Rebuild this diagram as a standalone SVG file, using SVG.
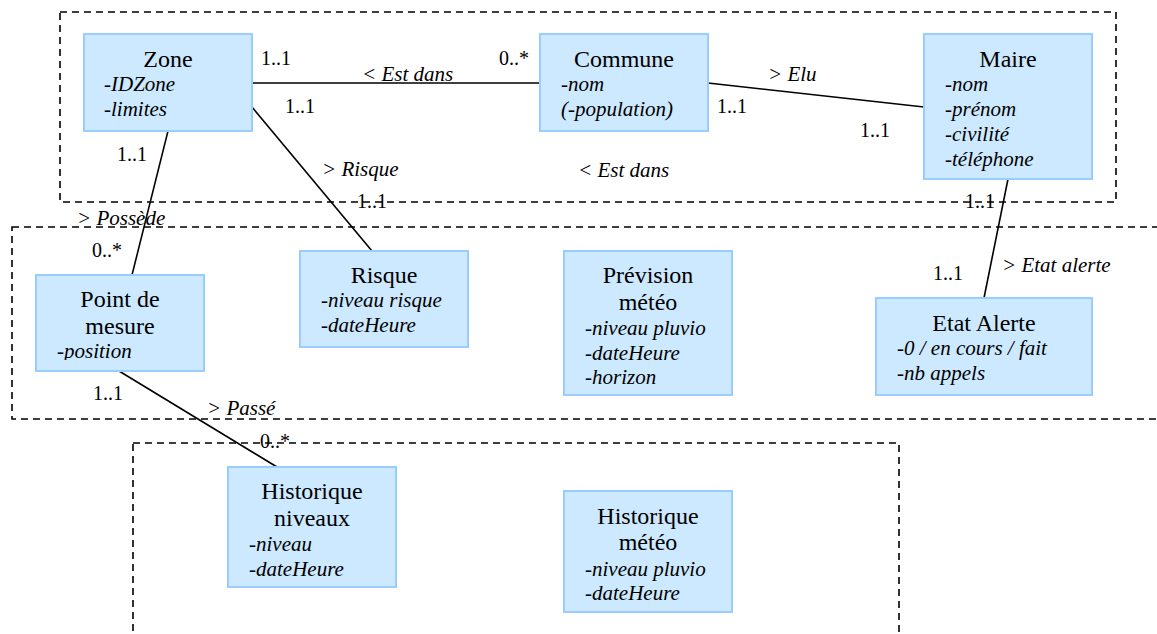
<svg xmlns="http://www.w3.org/2000/svg" width="1157" height="634" viewBox="0 0 1157 634">
<style>
text{font-family:"Liberation Serif","Times New Roman",serif;fill:#000}
.frame{fill:none;stroke:#000;stroke-width:1.6;stroke-dasharray:7,5}
.box{fill:#cce9ff;stroke:#99ccff;stroke-width:2}
.link{stroke:#000;stroke-width:1.6;fill:none}
.title{font-size:24px;text-anchor:middle}
.attr{font-size:21px;font-style:italic}
.mult{font-size:20px}
.lbl{font-size:21px;font-style:italic}
</style>
<defs>
<clipPath id="clipPoint"><rect x="36" y="275" width="168" height="85"/></clipPath>
</defs>
<rect width="1157" height="634" fill="#fff"/>
<g id="frames">
<rect class="frame" x="60" y="12" width="1056" height="190"/>
<rect class="frame" x="12" y="227" width="1160" height="192"/>
<rect class="frame" x="133" y="443" width="766" height="210"/>
</g>
<g id="connectors">
<line class="link" x1="252" y1="83" x2="540" y2="83"/>
<line class="link" x1="708" y1="83" x2="924" y2="107"/>
<line class="link" x1="252" y1="107" x2="372" y2="251"/>
<line class="link" x1="168" y1="131" x2="132" y2="275"/>
<line class="link" x1="1008" y1="179" x2="984" y2="298"/>
<line class="link" x1="119" y1="371" x2="277" y2="467"/>
<g class="mult">
<text class="mult" x="261" y="65">1..1</text>
<text class="mult" x="499" y="65">0..*</text>
<text class="mult" x="285" y="113">1..1</text>
<text class="mult" x="717" y="113">1..1</text>
<text class="mult" x="860" y="137">1..1</text>
<text class="mult" x="117" y="161">1..1</text>
<text class="mult" x="357" y="208">1..1</text>
<text class="mult" x="92" y="257">0..*</text>
<text class="mult" x="965" y="208">1..1</text>
<text class="mult" x="933" y="280">1..1</text>
<text class="mult" x="93" y="400">1..1</text>
<text class="mult" x="260" y="448">0..*</text>
</g>
<g>
<text class="lbl" x="362" y="81">&lt; Est dans</text>
<text class="lbl" x="768" y="81">&gt; Elu</text>
<text class="lbl" x="578" y="177">&lt; Est dans</text>
<text class="lbl" x="322" y="176">&gt; Risque</text>
<text class="lbl" x="77" y="225">&gt; Possède</text>
<text class="lbl" x="1002" y="272">&gt; Etat alerte</text>
<text class="lbl" x="207" y="415">&gt; Passé</text>
</g>
</g>
<g id="zone">
<rect class="box" x="84" y="34" width="168" height="97"/>
<text class="title" x="168" y="67">Zone</text>
<text class="attr" x="104" y="91">-IDZone</text>
<text class="attr" x="104" y="116">-limites</text>
</g>
<g id="commune">
<rect class="box" x="540" y="34" width="168" height="97"/>
<text class="title" x="624" y="67">Commune</text>
<text class="attr" x="561" y="91">-nom</text>
<text class="attr" x="561" y="116">(-population)</text>
</g>
<g id="maire">
<rect class="box" x="924" y="34" width="168" height="145"/>
<text class="title" x="1008" y="67">Maire</text>
<text class="attr" x="945" y="91">-nom</text>
<text class="attr" x="945" y="116">-prénom</text>
<text class="attr" x="945" y="141">-civilité</text>
<text class="attr" x="945" y="166">-téléphone</text>
</g>
<g id="point-de-mesure">
<rect class="box" x="36" y="275" width="168" height="96"/>
<text class="title" x="120" y="307">Point de</text>
<text class="title" x="120" y="334">mesure</text>
<text class="attr" x="57" y="358" clip-path="url(#clipPoint)">-position</text>
</g>
<g id="risque">
<rect class="box" x="300" y="251" width="168" height="96"/>
<text class="title" x="384" y="283">Risque</text>
<text class="attr" x="321" y="307">-niveau risque</text>
<text class="attr" x="321" y="332">-dateHeure</text>
</g>
<g id="prevision-meteo">
<rect class="box" x="564" y="251" width="168" height="144"/>
<text class="title" x="648" y="283">Prévision</text>
<text class="title" x="648" y="310">météo</text>
<text class="attr" x="585" y="335">-niveau pluvio</text>
<text class="attr" x="585" y="360">-dateHeure</text>
<text class="attr" x="585" y="384">-horizon</text>
</g>
<g id="etat-alerte">
<rect class="box" x="876" y="298" width="216" height="97"/>
<text class="title" x="984" y="331">Etat Alerte</text>
<text class="attr" x="897" y="355">-0 / en cours / fait</text>
<text class="attr" x="897" y="380">-nb appels</text>
</g>
<g id="historique-niveaux">
<rect class="box" x="228" y="467" width="168" height="120"/>
<text class="title" x="312" y="499">Historique</text>
<text class="title" x="312" y="526">niveaux</text>
<text class="attr" x="249" y="551">-niveau</text>
<text class="attr" x="249" y="576">-dateHeure</text>
</g>
<g id="historique-meteo">
<rect class="box" x="564" y="491" width="168" height="121"/>
<text class="title" x="648" y="524">Historique</text>
<text class="title" x="648" y="550">météo</text>
<text class="attr" x="585" y="576">-niveau pluvio</text>
<text class="attr" x="585" y="600">-dateHeure</text>
</g>
</svg>
